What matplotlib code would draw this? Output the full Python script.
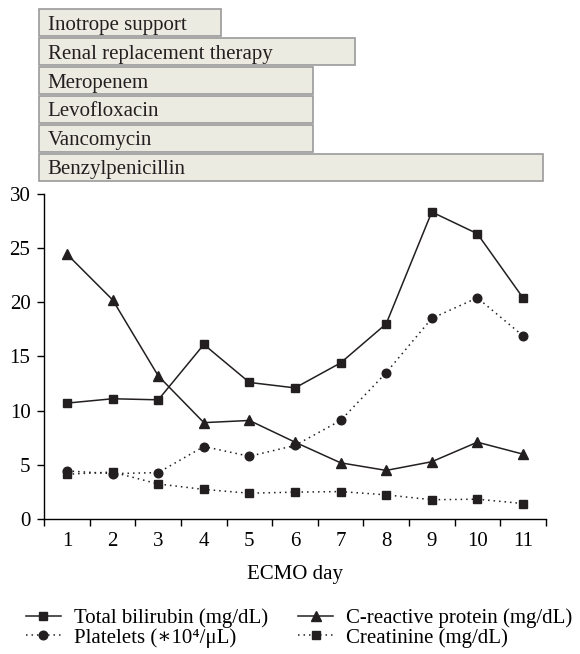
import matplotlib.pyplot as plt

plt.rcParams['font.family'] = ['Liberation Serif', 'DejaVu Serif']

# ECMO days and lab values
days = [1, 2, 3, 4, 5, 6, 7, 8, 9, 10, 11]
bilirubin = [10.7, 11.1, 11.0, 16.1, 12.6, 12.1, 14.4, 18.0, 28.3, 26.3, 20.4]
crp = [24.4, 20.2, 13.2, 8.9, 9.1, 7.1, 5.2, 4.5, 5.3, 7.1, 6.0]
platelets = [4.45, 4.2, 4.3, 6.7, 5.8, 6.8, 9.1, 13.5, 18.5, 20.4, 16.9]
creatinine = [4.15, 4.35, 3.25, 2.75, 2.4, 2.5, 2.55, 2.25, 1.8, 1.85, 1.45]

# treatments shown above the chart (start / end in ECMO days)
treatments = ['Inotrope support', 'Renal replacement therapy', 'Meropenem',
              'Levofloxacin', 'Vancomycin', 'Benzylpenicillin']
treat_start = [0.39, 0.39, 0.39, 0.39, 0.39, 0.39]
treat_end = [4.38, 7.32, 6.40, 6.40, 6.40, 11.43]

ink = '#231f20'
fs = 15

fig = plt.figure(figsize=(5.8, 6.54), dpi=100)
ax = fig.add_axes([0.0764, 0.2060, 0.8645, 0.4981])
ax_t = fig.add_axes([0.0764, 0.7222, 0.8645, 0.2651], sharex=ax)

dot = (0, (1, 2.6))
l1, = ax.plot(days, bilirubin, color=ink, lw=1.1, marker='s', ms=6.2,
              label='Total bilirubin (mg/dL)', zorder=3)
l2, = ax.plot(days, crp, color=ink, lw=1.1, marker='^', ms=7,
              label='C-reactive protein (mg/dL)', zorder=3)
l4, = ax.plot(days, creatinine, color=ink, lw=1.1, ls=dot, marker='s', ms=6.2,
              label='Creatinine (mg/dL)', zorder=3)
l3, = ax.plot(days, platelets, color=ink, lw=1.1, ls=dot, marker='o', ms=6.2,
              label='Platelets (\u221710\u2074/\u03bcL)', zorder=4)

ax.set_xlim(0.5, 11.5)
ax.set_ylim(0, 30)
ax.set_yticks([0, 5, 10, 15, 20, 25, 30])
ax.set_xticks(days)
ax.set_xticks([d + 0.5 for d in [0] + days], minor=True)
ax.tick_params(axis='x', which='major', length=0, pad=9, labelsize=fs)
ax.tick_params(axis='x', which='minor', length=5, width=1, direction='out')
ax.tick_params(axis='y', length=5, width=1, direction='out', pad=5, labelsize=fs)
for s in ['top', 'right']:
    ax.spines[s].set_visible(False)
for s in ['left', 'bottom']:
    ax.spines[s].set_linewidth(1)
ax.set_xlabel('ECMO day', fontsize=fs, labelpad=10)

# treatment boxes
rows = list(range(len(treatments)))
ax_t.barh(rows, [e - s for s, e in zip(treat_start, treat_end)], left=treat_start,
          height=0.95, color='#ecebe1', edgecolor='#9a9a9a', linewidth=1.2,
          clip_on=False)
for r, name, s in zip(rows, treatments, treat_start):
    ax_t.annotate(name, (s, r), xytext=(6, 0), textcoords='offset points',
                  va='center_baseline', ha='left', fontsize=fs, color=ink,
                  annotation_clip=False)
ax_t.set_ylim(5.5, -0.5)
ax_t.axis('off')

fig.legend(handles=[l1, l3, l2, l4], ncol=2, loc='lower left',
           bbox_to_anchor=(0.02, -0.0125), frameon=False, fontsize=fs,
           handlelength=1.65, handletextpad=0.65, columnspacing=1.45,
           labelspacing=0.0, borderpad=0.2)

plt.savefig('out.png', dpi=100)
